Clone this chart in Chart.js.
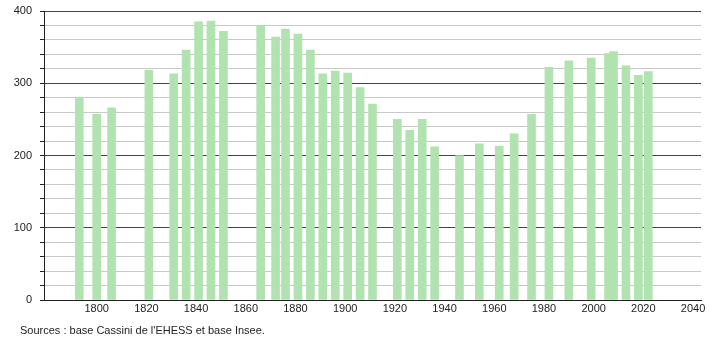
<!DOCTYPE html>
<html>
<head>
<meta charset="utf-8">
<script src="https://cdn.jsdelivr.net/npm/chart.js@4"></script>
<style>
  body { margin: 0; background: #fff; }
  #wrap { position: relative; width: 710px; height: 340px; }
  #source {
    position: absolute; left: 20px; top: 324px;
    font: 11px "Liberation Sans", Arial, sans-serif; color: #222;
  }
</style>
</head>
<body>
<div id="wrap">
  <canvas id="chart" width="710" height="340"></canvas>
  <div id="source">Sources : base Cassini de l'EHESS et base Insee.</div>
</div>
<script>
// census years and population
const years = [1793, 1800, 1806, 1821, 1831, 1836, 1841, 1846, 1851, 1866, 1872, 1876, 1881, 1886, 1891, 1896, 1901, 1906, 1911, 1921, 1926, 1931, 1936, 1946, 1954, 1962, 1968, 1975, 1982, 1990, 1999, 2006, 2008, 2013, 2018, 2022];
const population = [281, 257, 266, 318, 313, 346, 385, 386, 372, 379, 364, 375, 368, 346, 313, 317, 314, 294, 271, 250, 235, 250, 212, 200, 216, 213, 230, 257, 322, 331, 335, 341, 344, 324, 311, 316];
const xTicks = [1800, 1820, 1840, 1860, 1880, 1900, 1920, 1940, 1960, 1980, 2000, 2020, 2040];

const points = years.map((y, i) => ({ x: y, y: population[i] }));
const tickFont = { family: '"Liberation Sans", Arial, sans-serif', size: 11 };

new Chart(document.getElementById('chart'), {
  type: 'bar',
  data: {
    datasets: [{
      data: points,
      backgroundColor: '#b0e3b0',
      barThickness: 8
    }]
  },
  options: {
    responsive: false,
    animation: false,
    layout: { padding: { top: 11, right: 9, left: 0, bottom: 0 } },
    plugins: { legend: { display: false }, tooltip: { enabled: false } },
    scales: {
      x: {
        type: 'linear',
        offset: false,
        min: 1778.8,
        max: 2043.2,
        afterBuildTicks: scale => { scale.ticks = xTicks.map(v => ({ value: v })); },
        afterFit: scale => { scale.height = 40; },
        grid: { display: false, drawTicks: false, tickLength: 0 },
        border: { display: true, color: '#222', width: 1 },
        ticks: { font: tickFont, color: '#222', padding: 2, maxRotation: 0, autoSkip: false, callback: v => String(v) }
      },
      y: {
        min: 0,
        max: 400,
        afterFit: scale => {
          scale.width = 44;
          scale.paddingTop = 0;
          scale.paddingBottom = 0;
        },
        ticks: {
          stepSize: 20,
          autoSkip: false,
          font: tickFont,
          color: '#222',
          padding: 8,
          callback: v => (v % 100 === 0 ? String(v) : '')
        },
        grid: {
          color: ctx => (ctx.tick && ctx.tick.value % 100 === 0 ? '#444' : '#c8c8c8'),
          tickColor: '#222',
          tickLength: 4
        },
        border: { display: true, color: '#222', width: 1 }
      }
    }
  }
});
</script>
</body>
</html>
